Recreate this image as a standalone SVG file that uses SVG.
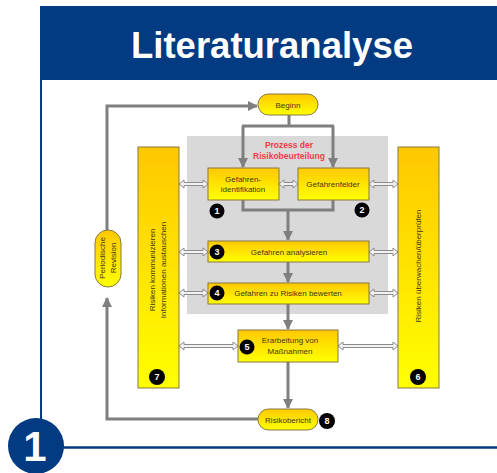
<svg xmlns="http://www.w3.org/2000/svg" width="497" height="473" viewBox="0 0 497 473">
  <defs>
    <linearGradient id="yellow" x1="0" y1="0" x2="0" y2="1">
      <stop offset="0" stop-color="#ffc800"/>
      <stop offset="1" stop-color="#ffff00"/>
    </linearGradient>
    <marker id="head" viewBox="0 0 10 10" refX="9" refY="5" markerWidth="3.4" markerHeight="3.4" orient="auto" markerUnits="strokeWidth">
      <path d="M0,0 L10,5 L0,10 Z" fill="#7f7f7f"/>
    </marker>
    <style>
      .box { fill: url(#yellow); stroke: #857944; stroke-width: 1; }
      .flow { fill: none; stroke: #7f7f7f; stroke-width: 3; }
      .dbl { fill: #f2f2f2; stroke: #8c8c8c; stroke-width: 1; }
      .lbl { font-family: "Liberation Sans", Arial, sans-serif; font-size: 8px; fill: #3f3818; text-anchor: middle; }
      .num { font-family: "Liberation Sans", Arial, sans-serif; font-size: 9px; font-weight: bold; fill: #ffffff; text-anchor: middle; }
      .dot { fill: #000000; }
    </style>
  </defs>

  <!-- frame and title band -->
  <g id="frame">
    <rect x="40" y="6" width="457" height="74" fill="#023b82"/>
    <line x1="41" y1="80" x2="41" y2="420" stroke="#023b82" stroke-width="2"/>
    <line x1="60" y1="447.5" x2="497" y2="447.5" stroke="#023b82" stroke-width="2.5"/>
    <text x="272" y="58" font-family="Liberation Sans, Arial, sans-serif" font-size="36.5" font-weight="bold" fill="#ffffff" text-anchor="middle">Literaturanalyse</text>
    <circle cx="36" cy="446" r="28" fill="#023b82"/>
    <text x="35" y="461" font-family="Liberation Sans, Arial, sans-serif" font-size="42" font-weight="bold" fill="#ffffff" text-anchor="middle">1</text>
  </g>

  <!-- risk assessment process area -->
  <g id="process-area">
    <rect x="187" y="136" width="201" height="178" fill="#d9d9d9"/>
    <text x="289" y="148" font-family="Liberation Sans, Arial, sans-serif" font-size="8.5" font-weight="bold" fill="#f03c46" text-anchor="middle">Prozess der</text>
    <text x="289" y="159" font-family="Liberation Sans, Arial, sans-serif" font-size="8.5" font-weight="bold" fill="#f03c46" text-anchor="middle">Risikobeurteilung</text>
  </g>

  <!-- connectors -->
  <g id="connectors">
    <path class="flow" d="M289,115 V126"/>
    <path class="flow" d="M242,126 H334"/>
    <path class="flow" d="M243,126 V167" marker-end="url(#head)"/>
    <path class="flow" d="M333,126 V167" marker-end="url(#head)"/>
    <path class="flow" d="M243,200 V210 H333 V200"/>
    <path class="flow" d="M288,210 V240" marker-end="url(#head)"/>
    <path class="flow" d="M288,262 V282" marker-end="url(#head)"/>
    <path class="flow" d="M288,304 V329" marker-end="url(#head)"/>
    <path class="flow" d="M288,362 V408" marker-end="url(#head)"/>
    <path class="flow" d="M258,419 H107 V298" marker-end="url(#head)"/>
    <path class="flow" d="M107,230 V106 H257" marker-end="url(#head)"/>

    <!-- two-way information exchange arrows -->
    <path class="dbl" d="M179,184 l5,-4 v2.5 h19 v-2.5 l5,4 l-5,4 v-2.5 h-19 v2.5 Z"/>
    <path class="dbl" d="M279,184 l5,-4 v2.5 h9 v-2.5 l5,4 l-5,4 v-2.5 h-9 v2.5 Z"/>
    <path class="dbl" d="M369,184 l5,-4 v2.5 h19 v-2.5 l5,4 l-5,4 v-2.5 h-19 v2.5 Z"/>
    <path class="dbl" d="M179,252 l5,-4 v2.5 h19 v-2.5 l5,4 l-5,4 v-2.5 h-19 v2.5 Z"/>
    <path class="dbl" d="M369,252 l5,-4 v2.5 h19 v-2.5 l5,4 l-5,4 v-2.5 h-19 v2.5 Z"/>
    <path class="dbl" d="M179,293 l5,-4 v2.5 h19 v-2.5 l5,4 l-5,4 v-2.5 h-19 v2.5 Z"/>
    <path class="dbl" d="M369,293 l5,-4 v2.5 h19 v-2.5 l5,4 l-5,4 v-2.5 h-19 v2.5 Z"/>
    <path class="dbl" d="M179,346 l5,-4 v2.5 h49 v-2.5 l5,4 l-5,4 v-2.5 h-49 v2.5 Z"/>
    <path class="dbl" d="M338,346 l5,-4 v2.5 h50 v-2.5 l5,4 l-5,4 v-2.5 h-50 v2.5 Z"/>
  </g>

  <g id="beginn">
    <rect class="box" x="258" y="94" width="60" height="21" rx="10.5"/>
    <text class="lbl" x="288" y="107.5" font-size="8.5">Beginn</text>
  </g>

  <g id="gefahrenidentifikation">
    <rect class="box" x="208" y="168" width="71" height="32"/>
    <text class="lbl" x="243" y="182">Gefahren-</text>
    <text class="lbl" x="243" y="192">identifikation</text>
    <circle class="dot" cx="217" cy="211" r="7.5"/>
    <text class="num" x="217" y="214.3">1</text>
  </g>

  <g id="gefahrenfelder">
    <rect class="box" x="298" y="168" width="71" height="32"/>
    <text class="lbl" x="333" y="187">Gefahrenfelder</text>
    <circle class="dot" cx="362" cy="210" r="7.5"/>
    <text class="num" x="362" y="213.3">2</text>
  </g>

  <g id="gefahren-analysieren">
    <rect class="box" x="208" y="241" width="161" height="21"/>
    <text class="lbl" x="289" y="254.5">Gefahren analysieren</text>
    <circle class="dot" cx="217" cy="252" r="7.5"/>
    <text class="num" x="217" y="255.3">3</text>
  </g>

  <g id="gefahren-bewerten">
    <rect class="box" x="208" y="283" width="161" height="21"/>
    <text class="lbl" x="288" y="296">Gefahren zu Risiken bewerten</text>
    <circle class="dot" cx="217" cy="293" r="7.5"/>
    <text class="num" x="217" y="296.3">4</text>
  </g>

  <g id="massnahmen">
    <rect class="box" x="238" y="330" width="100" height="32"/>
    <text class="lbl" x="290" y="343">Erarbeitung von</text>
    <text class="lbl" x="290" y="354">Maßnahmen</text>
    <circle class="dot" cx="247" cy="347" r="7.5"/>
    <text class="num" x="247" y="350.3">5</text>
  </g>

  <g id="ueberwachen">
    <rect class="box" x="398" y="147" width="41" height="241"/>
    <text class="lbl" font-size="9" transform="translate(421,266) rotate(-90)">Risiken überwachen/überprüfen</text>
    <circle class="dot" cx="418" cy="377" r="8"/>
    <text class="num" x="418" y="380.3">6</text>
  </g>

  <g id="kommunizieren">
    <rect class="box" x="138" y="147" width="41" height="241"/>
    <text class="lbl" font-size="8.3" transform="translate(155,270) rotate(-90)">Risiken kommunizieren</text>
    <text class="lbl" font-size="8.3" transform="translate(166,270) rotate(-90)">Informationen austauschen</text>
    <circle class="dot" cx="157" cy="377" r="8"/>
    <text class="num" x="157" y="380.3">7</text>
  </g>

  <g id="risikobericht">
    <rect class="box" x="258" y="409" width="60" height="21" rx="10.5"/>
    <text class="lbl" x="288" y="422.5" font-size="8.5">Risikobericht</text>
    <circle class="dot" cx="327" cy="421" r="8"/>
    <text class="num" x="327" y="424.3">8</text>
  </g>

  <g id="periodische-revision">
    <rect class="box" x="95" y="230" width="26" height="57" rx="13"/>
    <text class="lbl" font-size="8.8" transform="translate(105,258) rotate(-90)">Periodische</text>
    <text class="lbl" font-size="8.8" transform="translate(116,258) rotate(-90)">Revision</text>
  </g>
</svg>
